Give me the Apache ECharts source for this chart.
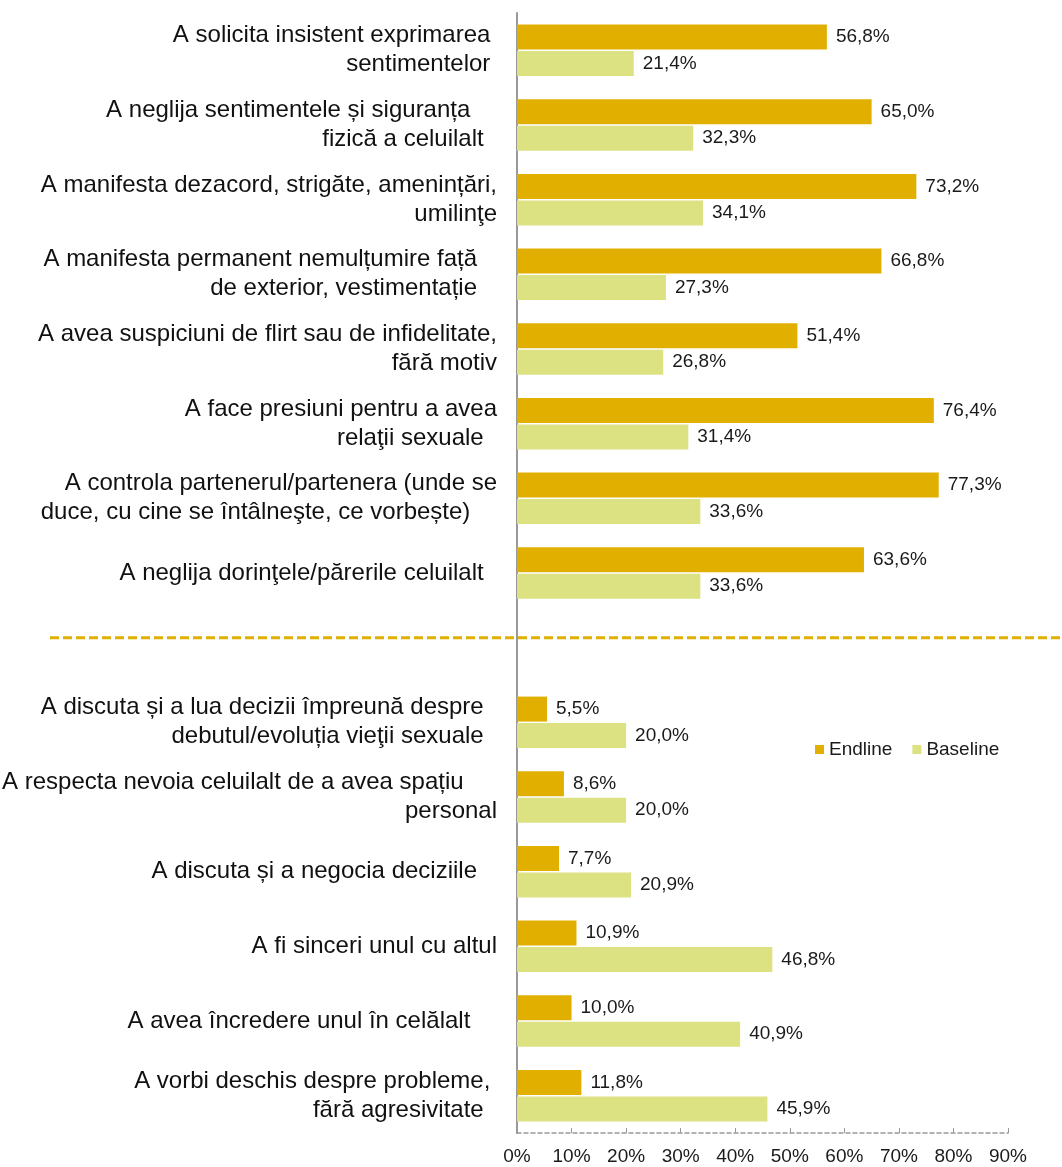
<!DOCTYPE html>
<html>
<head>
<meta charset="utf-8">
<script src="https://cdn.jsdelivr.net/npm/echarts@6/dist/echarts.min.js"></script>
<style>
html,body{margin:0;padding:0;background:#fff;}
#chart{width:1062px;height:1167px;}
</style>
</head>
<body>
<div id="chart"></div>
<script>
var categories = [
  "A solicita insistent exprimarea \nsentimentelor ",
  "A neglija sentimentele și siguranța    \nfizică a celuilalt  ",
  "A manifesta dezacord, strigăte, amenințări,\numilinţe",
  "A manifesta permanent nemulțumire față   \nde exterior, vestimentație   ",
  "A avea suspiciuni de flirt sau de infidelitate,\nfără motiv",
  "A face presiuni pentru a avea\nrelaţii sexuale  ",
  "A controla partenerul/partenera (unde se\nduce, cu cine se întâlneşte, ce vorbește)    ",
  "A neglija dorinţele/părerile celuilalt  ",
  "",
  "A discuta și a lua decizii împreună despre  \ndebutul/evoluția vieţii sexuale  ",
  "A respecta nevoia celuilalt de a avea spațiu     \npersonal",
  "A discuta și a negocia deciziile   ",
  "A fi sinceri unul cu altul",
  "A avea încredere unul în celălalt    ",
  "A vorbi deschis despre probleme, \nfără agresivitate  "
];
var endline  = [56.8, 65.0, 73.2, 66.8, 51.4, 76.4, 77.3, 63.6, null, 5.5, 8.6, 7.7, 10.9, 10.0, 11.8];
var baseline = [21.4, 32.3, 34.1, 27.3, 26.8, 31.4, 33.6, 33.6, null, 20.0, 20.0, 20.9, 46.8, 40.9, 45.9];
var xTicks = [0, 10, 20, 30, 40, 50, 60, 70, 80, 90];
var seriesNames = ["Endline", "Baseline"];

var FONT = "'Liberation Sans', Arial, sans-serif";
var chart = echarts.init(document.getElementById('chart'), null, {renderer: 'canvas'});

function pct(v){ return v.toFixed(1).replace('.', ',') + '%'; }

var labelCfg = {
  show: true, position: 'right', distance: 9,
  fontFamily: FONT, fontSize: 19, color: '#1a1a1a',
  formatter: function(p){ return p.value == null ? '' : pct(p.value); }
};

chart.setOption({
  animation: false,
  backgroundColor: '#ffffff',
  grid: {left: 517, right: 54, top: 13, bottom: 34, containLabel: false, outerBoundsMode: 'none'},
  legend: {
    left: 810, top: 735,
    itemWidth: 9, itemHeight: 9, itemGap: 20,
    icon: 'rect',
    textStyle: {fontFamily: FONT, fontSize: 19, color: '#1a1a1a'},
    data: seriesNames
  },
  xAxis: {
    type: 'value', min: xTicks[0], max: xTicks[xTicks.length-1], interval: 10,
    axisLine: {show: true, lineStyle: {color: '#999', type: [4, 3], width: 1.5}},
    axisTick: {show: true, length: 5, inside: true, lineStyle: {color: '#999'}},
    splitLine: {show: false},
    axisLabel: {fontFamily: FONT, fontSize: 19, color: '#1a1a1a', margin: 14,
      formatter: function(v){ return v + '%'; }}
  },
  yAxis: {
    type: 'category', data: categories, inverse: true,
    axisLine: {show: true, lineStyle: {color: '#999', width: 2}},
    axisTick: {show: false},
    axisLabel: {fontFamily: FONT, fontSize: 24, color: '#111', margin: 20,
      align: 'right', lineHeight: 29, padding: [8, 0, 0, 0]}
  },
  series: [
    {name: seriesNames[0], type: 'bar', data: endline, barWidth: 25, barGap: '6%',
     itemStyle: {color: '#E0AF00'}, label: labelCfg},
    {name: seriesNames[1], type: 'bar', data: baseline, barWidth: 25, barGap: '6%',
     itemStyle: {color: '#DCE181'}, label: labelCfg}
  ]
});

// dashed separator between the two groups, placed at the empty category
var sepY = chart.convertToPixel({yAxisIndex: 0}, 8) - 10;
chart.setOption({
  graphic: [{
    type: 'line', z: 10,
    shape: {x1: 50, y1: sepY, x2: 1062, y2: sepY},
    style: {stroke: '#E0AF00', lineWidth: 3, lineDash: [9, 4]}
  }]
});
</script>
</body>
</html>
